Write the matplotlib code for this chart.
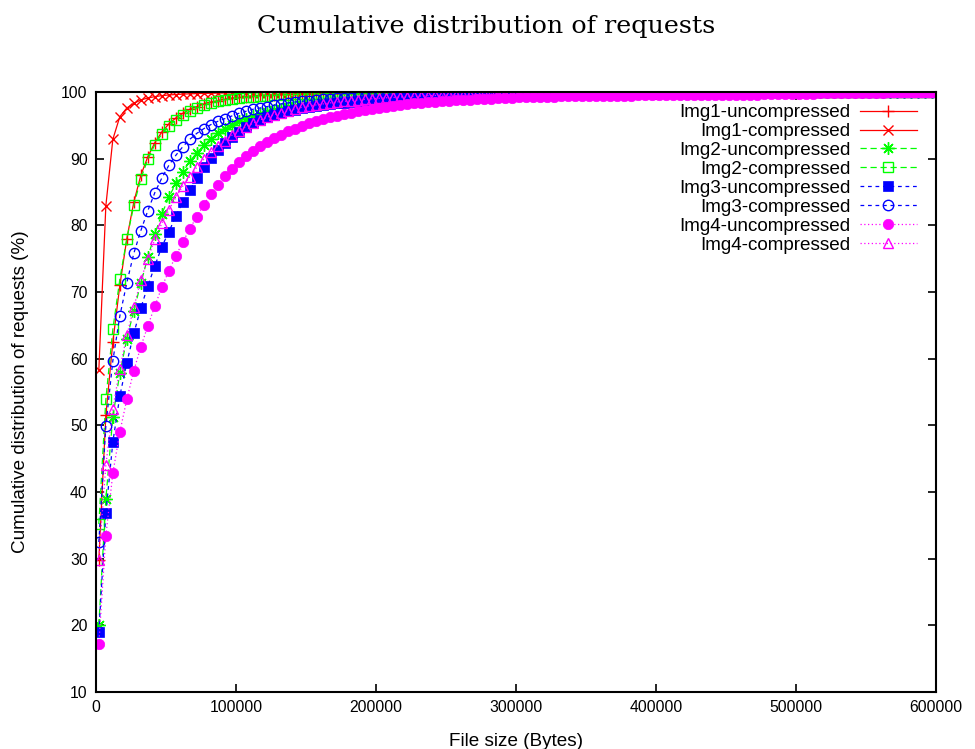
import matplotlib
matplotlib.use("Agg")
import matplotlib.pyplot as plt
import numpy as np

# bin centres of the file-size histogram (bytes)
sizes = np.arange(2000, 600000, 5000)

img1_uncompressed = [
    29.8, 51.5, 62.5, 71.0, 78.0, 83.5, 87.5, 90.3, 92.4, 94.0,
    95.2, 96.1, 96.8, 97.4, 97.8, 98.2, 98.5, 98.7, 98.9, 99.1,
    99.2, 99.3, 99.4, 99.5, 99.55, 99.6, 99.65, 99.7, 99.72, 99.75,
    99.77, 99.79, 99.8, 99.82, 99.83, 99.84, 99.85, 99.86, 99.87, 99.88,
    99.88, 99.89, 99.89, 99.9, 99.9, 99.91, 99.91, 99.92, 99.92, 99.92,
    99.93, 99.93, 99.93, 99.94, 99.94, 99.94, 99.95, 99.95, 99.95, 99.95,
    99.96, 99.96, 99.96, 99.96, 99.96, 99.96, 99.96, 99.96, 99.96, 99.96,
    99.96, 99.96, 99.97, 99.97, 99.97, 99.97, 99.97, 99.97, 99.97, 99.97,
    99.97, 99.97, 99.97, 99.97, 99.97, 99.97, 99.97, 99.97, 99.97, 99.97,
    99.98, 99.98, 99.98, 99.98, 99.98, 99.98, 99.98, 99.98, 99.98, 99.98,
    99.98, 99.98, 99.98, 99.98, 99.98, 99.99, 99.99, 99.99, 99.99, 99.99,
    99.99, 99.99, 99.99, 99.99, 99.99, 99.99, 99.99, 99.99, 99.99, 100.0,
]
img1_compressed = [
    58.3, 82.9, 92.9, 96.3, 97.6, 98.3, 98.8, 99.1, 99.3, 99.45,
    99.55, 99.62, 99.68, 99.72, 99.76, 99.79, 99.81, 99.83, 99.85, 99.86,
    99.87, 99.88, 99.89, 99.9, 99.9, 99.91, 99.91, 99.92, 99.92, 99.93,
    99.93, 99.93, 99.94, 99.94, 99.94, 99.95, 99.95, 99.95, 99.95, 99.96,
    99.96, 99.96, 99.96, 99.96, 99.96, 99.96, 99.97, 99.97, 99.97, 99.97,
    99.97, 99.97, 99.97, 99.97, 99.97, 99.97, 99.97, 99.97, 99.98, 99.98,
    99.98, 99.98, 99.98, 99.98, 99.98, 99.98, 99.98, 99.98, 99.98, 99.98,
    99.98, 99.98, 99.98, 99.98, 99.98, 99.98, 99.98, 99.98, 99.99, 99.99,
    99.99, 99.99, 99.99, 99.99, 99.99, 99.99, 99.99, 99.99, 99.99, 99.99,
    99.99, 99.99, 99.99, 99.99, 99.99, 99.99, 99.99, 99.99, 99.99, 99.99,
    99.99, 99.99, 99.99, 99.99, 99.99, 99.99, 99.99, 99.99, 99.99, 99.99,
    100.0, 100.0, 100.0, 100.0, 100.0, 100.0, 100.0, 100.0, 100.0, 100.0,
]
img2_uncompressed = [
    20.0, 38.9, 51.3, 57.8, 63.0, 67.2, 71.3, 75.2, 78.7, 81.7,
    84.2, 86.3, 88.0, 89.6, 90.9, 92.0, 93.0, 93.8, 94.5, 95.1,
    95.6, 96.0, 96.4, 96.7, 97.0, 97.3, 97.5, 97.7, 97.9, 98.1,
    98.25, 98.4, 98.5, 98.6, 98.7, 98.8, 98.9, 99.0, 99.05, 99.1,
    99.15, 99.2, 99.25, 99.3, 99.34, 99.38, 99.42, 99.45, 99.48, 99.51,
    99.54, 99.56, 99.58, 99.6, 99.62, 99.64, 99.66, 99.68, 99.7, 99.71,
    99.72, 99.73, 99.74, 99.75, 99.76, 99.77, 99.78, 99.79, 99.8, 99.8,
    99.81, 99.82, 99.82, 99.83, 99.84, 99.84, 99.85, 99.86, 99.86, 99.87,
    99.87, 99.88, 99.88, 99.89, 99.89, 99.9, 99.9, 99.91, 99.91, 99.92,
    99.92, 99.92, 99.93, 99.93, 99.94, 99.94, 99.94, 99.95, 99.95, 99.95,
    99.96, 99.96, 99.96, 99.97, 99.97, 99.97, 99.97, 99.98, 99.98, 99.98,
    99.98, 99.99, 99.99, 99.99, 99.99, 99.99, 100.0, 100.0, 100.0, 100.0,
]
img2_compressed = [
    35.2, 53.9, 64.4, 71.9, 78.0, 83.0, 87.0, 89.9, 92.1, 93.7,
    94.9, 95.8, 96.5, 97.1, 97.6, 98.0, 98.3, 98.6, 98.8, 99.0,
    99.1, 99.2, 99.3, 99.38, 99.45, 99.5, 99.55, 99.6, 99.63, 99.66,
    99.69, 99.71, 99.73, 99.75, 99.77, 99.78, 99.8, 99.81, 99.82, 99.83,
    99.84, 99.85, 99.86, 99.86, 99.87, 99.88, 99.88, 99.89, 99.89, 99.9,
    99.9, 99.91, 99.91, 99.91, 99.92, 99.92, 99.92, 99.93, 99.93, 99.93,
    99.94, 99.94, 99.94, 99.94, 99.95, 99.95, 99.95, 99.95, 99.95, 99.96,
    99.96, 99.96, 99.96, 99.96, 99.96, 99.97, 99.97, 99.97, 99.97, 99.97,
    99.97, 99.97, 99.98, 99.98, 99.98, 99.98, 99.98, 99.98, 99.98, 99.98,
    99.98, 99.98, 99.99, 99.99, 99.99, 99.99, 99.99, 99.99, 99.99, 99.99,
    99.99, 99.99, 99.99, 99.99, 99.99, 99.99, 99.99, 99.99, 99.99, 99.99,
    100.0, 100.0, 100.0, 100.0, 100.0, 100.0, 100.0, 100.0, 100.0, 100.0,
]
img3_uncompressed = [
    19.0, 36.8, 47.5, 54.4, 59.4, 63.8, 67.6, 70.9, 73.9, 76.8,
    79.0, 81.4, 83.5, 85.3, 87.1, 88.7, 90.1, 91.3, 92.3, 93.2,
    94.0, 94.7, 95.3, 95.8, 96.2, 96.55, 96.85, 97.1, 97.35, 97.55,
    97.75, 97.9, 98.05, 98.2, 98.3, 98.4, 98.5, 98.6, 98.7, 98.78,
    98.85, 98.92, 98.98, 99.04, 99.1, 99.15, 99.2, 99.24, 99.28, 99.32,
    99.36, 99.4, 99.43, 99.46, 99.49, 99.52, 99.55, 99.57, 99.59, 99.61,
    99.63, 99.65, 99.67, 99.69, 99.7, 99.72, 99.73, 99.74, 99.75, 99.76,
    99.77, 99.78, 99.79, 99.8, 99.81, 99.82, 99.83, 99.84, 99.84, 99.85,
    99.86, 99.86, 99.87, 99.87, 99.88, 99.88, 99.89, 99.89, 99.9, 99.9,
    99.91, 99.91, 99.92, 99.92, 99.93, 99.93, 99.94, 99.94, 99.95, 99.95,
    99.95, 99.96, 99.96, 99.96, 99.97, 99.97, 99.97, 99.98, 99.98, 99.98,
    99.98, 99.99, 99.99, 99.99, 99.99, 99.99, 100.0, 100.0, 100.0, 100.0,
]
img3_compressed = [
    32.5, 49.9, 59.7, 66.4, 71.4, 75.8, 79.2, 82.2, 84.9, 87.1,
    89.0, 90.5, 91.8, 92.9, 93.8, 94.5, 95.1, 95.6, 96.0, 96.4,
    96.8, 97.1, 97.4, 97.6, 97.8, 98.0, 98.2, 98.35, 98.5, 98.6,
    98.7, 98.8, 98.9, 99.0, 99.05, 99.1, 99.15, 99.2, 99.25, 99.3,
    99.34, 99.38, 99.42, 99.45, 99.48, 99.51, 99.54, 99.56, 99.58, 99.6,
    99.62, 99.64, 99.66, 99.68, 99.7, 99.71, 99.72, 99.73, 99.74, 99.75,
    99.76, 99.77, 99.78, 99.79, 99.8, 99.8, 99.81, 99.82, 99.82, 99.83,
    99.84, 99.84, 99.85, 99.86, 99.86, 99.87, 99.87, 99.88, 99.88, 99.89,
    99.89, 99.9, 99.9, 99.91, 99.91, 99.92, 99.92, 99.92, 99.93, 99.93,
    99.94, 99.94, 99.94, 99.95, 99.95, 99.95, 99.96, 99.96, 99.96, 99.97,
    99.97, 99.97, 99.97, 99.98, 99.98, 99.98, 99.98, 99.99, 99.99, 99.99,
    99.99, 99.99, 99.99, 100.0, 100.0, 100.0, 100.0, 100.0, 100.0, 100.0,
]
img4_uncompressed = [
    17.2, 33.4, 42.8, 49.0, 53.9, 58.2, 61.8, 64.9, 67.9, 70.7,
    73.2, 75.4, 77.5, 79.5, 81.3, 83.1, 84.7, 86.1, 87.4, 88.5,
    89.5, 90.4, 91.2, 91.9, 92.5, 93.1, 93.6, 94.1, 94.5, 94.9,
    95.3, 95.6, 95.9, 96.2, 96.45, 96.7, 96.9, 97.1, 97.3, 97.5,
    97.65, 97.8, 97.9, 98.0, 98.15, 98.3, 98.4, 98.5, 98.55, 98.6,
    98.7, 98.75, 98.8, 98.85, 98.9, 98.95, 99.0, 99.05, 99.1, 99.15,
    99.2, 99.22, 99.25, 99.28, 99.3, 99.32, 99.34, 99.36, 99.38, 99.4,
    99.41, 99.42, 99.43, 99.44, 99.45, 99.46, 99.47, 99.48, 99.49, 99.5,
    99.5, 99.51, 99.51, 99.52, 99.52, 99.53, 99.53, 99.54, 99.54, 99.55,
    99.56, 99.57, 99.58, 99.6, 99.61, 99.63, 99.64, 99.66, 99.68, 99.7,
    99.72, 99.74, 99.76, 99.78, 99.8, 99.82, 99.84, 99.85, 99.87, 99.88,
    99.9, 99.91, 99.92, 99.93, 99.94, 99.95, 99.96, 99.97, 99.98, 100.0,
]
img4_compressed = [
    29.8, 44.0, 52.5, 58.5, 63.5, 67.7, 71.8, 75.0, 77.9, 80.3,
    82.3, 84.2, 85.9, 87.3, 88.7, 89.9, 91.0, 91.9, 92.7, 93.5,
    94.2, 94.8, 95.3, 95.8, 96.2, 96.6, 96.9, 97.2, 97.45, 97.7,
    97.9, 98.05, 98.2, 98.35, 98.5, 98.6, 98.7, 98.8, 98.9, 98.98,
    99.05, 99.12, 99.18, 99.24, 99.3, 99.35, 99.4, 99.44, 99.48, 99.51,
    99.54, 99.57, 99.6, 99.62, 99.64, 99.66, 99.68, 99.7, 99.71, 99.72,
    99.73, 99.74, 99.75, 99.76, 99.77, 99.78, 99.79, 99.8, 99.81, 99.82,
    99.82, 99.83, 99.84, 99.84, 99.85, 99.86, 99.86, 99.87, 99.87, 99.88,
    99.88, 99.89, 99.89, 99.9, 99.9, 99.91, 99.91, 99.92, 99.92, 99.93,
    99.93, 99.93, 99.94, 99.94, 99.94, 99.95, 99.95, 99.95, 99.96, 99.96,
    99.96, 99.97, 99.97, 99.97, 99.97, 99.98, 99.98, 99.98, 99.98, 99.99,
    99.99, 99.99, 99.99, 99.99, 100.0, 100.0, 100.0, 100.0, 100.0, 100.0,
]

labels = ["Img1-uncompressed", "Img1-compressed", "Img2-uncompressed",
          "Img2-compressed", "Img3-uncompressed", "Img3-compressed",
          "Img4-uncompressed", "Img4-compressed"]
series = [img1_uncompressed, img1_compressed, img2_uncompressed,
          img2_compressed, img3_uncompressed, img3_compressed,
          img4_uncompressed, img4_compressed]

# gnuplot-like line types: colour, dash pattern, point type
styles = [
    dict(color="#ff0000", ls="-", marker="+", ms=9, mew=1.0, mfc="none"),
    dict(color="#ff0000", ls="-", marker="x", ms=7, mew=1.0, mfc="none"),
    dict(color="#00ff00", ls=(0, (5, 3)), marker=(8, 2, 0), ms=9, mew=1.0, mfc="none"),
    dict(color="#00ff00", ls=(0, (5, 3)), marker="s", ms=7.5, mew=1.0, mfc="none"),
    dict(color="#0000ff", ls=(0, (3, 3)), marker="s", ms=7, mew=0.5, mfc="#0000ff"),
    dict(color="#0000ff", ls=(0, (3, 3)), marker="o", ms=7.5, mew=1.0, mfc="none"),
    dict(color="#ff00ff", ls=(0, (1, 2)), marker="o", ms=7.5, mew=0.5, mfc="#ff00ff"),
    dict(color="#ff00ff", ls=(0, (1, 2)), marker="^", ms=7.5, mew=1.0, mfc="none"),
]

plt.rcParams["font.family"] = ["Liberation Sans", "DejaVu Sans"]

fig = plt.figure(figsize=(9.75, 7.49), dpi=100)
ax = fig.add_axes([0.0985, 0.0761, 0.8615, 0.8011])

for y, lab, st in zip(series, labels, styles):
    ax.plot(sizes, y, label=lab, lw=0.9, **st)

ax.set_xlim(0, 600000)
ax.set_ylim(10, 100)
ax.set_xticks(np.arange(0, 600001, 100000))
ax.set_yticks(np.arange(10, 101, 10))
ax.ticklabel_format(style="plain", axis="x")
ax.tick_params(direction="in", length=6, width=1.2, top=True, right=True,
               labelsize=11.3, pad=6)
for sp in ax.spines.values():
    sp.set_linewidth(1.5)

ax.set_xlabel("File size (Bytes)", fontsize=13.6)
ax.set_ylabel("Cumulative distribution of requests (%)", fontsize=13.6)
ax.xaxis.set_label_coords(0.5, -0.068)
ax.yaxis.set_label_coords(-0.08, 0.5)

fig.text(0.499, 0.965, "Cumulative distribution of requests",
         ha="center", va="center", fontsize=18.3,
         family=["DejaVu Serif"])

leg = ax.legend(loc="upper right", bbox_to_anchor=(0.977, 0.98),
                markerfirst=False, frameon=False, fontsize=13.6,
                handlelength=3.0, handletextpad=0.5, labelspacing=0.09,
                borderaxespad=0, borderpad=0)

fig.savefig("out.png", dpi=100)
